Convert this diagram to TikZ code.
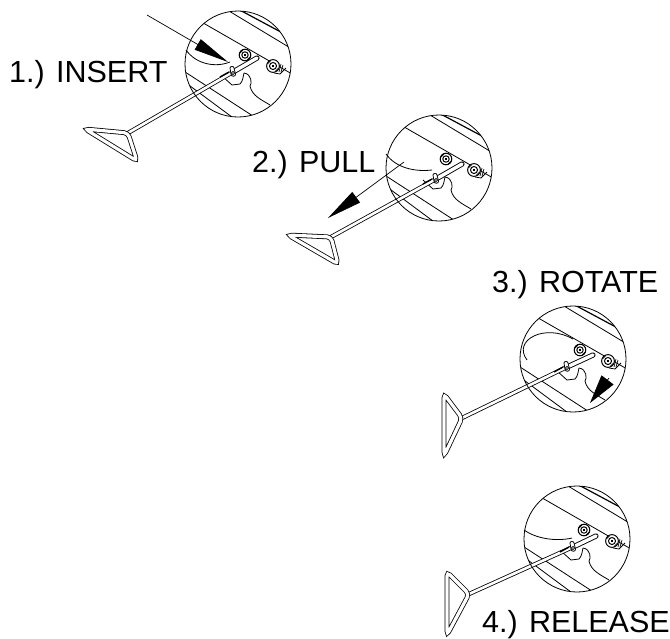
\documentclass[tikz,border=0pt]{standalone}
\usepackage{fontspec}
\setmainfont{Liberation Sans}
\usetikzlibrary{arrows.meta}
\tikzset{
  steplabel/.style={anchor=base west,inner sep=0pt,font=\fontsize{30.5}{32}\selectfont},
  lensring/.style={circle,draw,line width=0.8pt,minimum size=106pt,inner sep=0pt},
  rodline/.style={double,double distance=2.6pt,line width=0.8pt,line cap=round},
  rodhead/.style={double,double distance=3.4pt,line width=0.9pt,line cap=round},
  gripline/.style={double,double distance=3.2pt,line width=0.8pt,rounded corners=4pt},
  thinline/.style={line width=0.8pt},
  steparrow/.style 2 args={line width=0.7pt,-{Triangle[length=#1,width=#2]}},
  bolt/.pic={
    \draw[line width=1pt,fill=white] (0,0) circle (5.8);
    \draw[line width=1pt] (0,0) circle (3.2);
    \fill (-1.2,-1.2) rectangle (1.2,1.2);
    \draw[line width=0.7pt] (-5,-2) -- (-2,-5) (2,5) -- (5,2);
  },
  clevis/.pic={
    \draw[thinline,fill=white] (-3,-4) .. controls (-3,-6) and (1,-6) .. (1,-4) -- (2.5,2) .. controls (3,5) and (-2,5) .. (-2,2) -- cycle;
    \draw[thinline,fill=white] (0,1) circle (1.6);
    \draw[line width=1.4pt] (-4,0) -- (-13,5);
  },
  lensdetail/.pic={
    \clip (0,0) circle (53);
    \draw[line width=1.2pt] (-2,-56) -- (54,-26); % upper edge
    \draw[thinline] (-14,-56) -- (54,-15);
    \draw[thinline] (-40,-44) -- (54,10);
    \draw[thinline] (-56,6) -- (18,54); % lower edges
    \draw[thinline] (-56,16) -- (-2,56);
    \draw[thinline] (-16,12) -- (-6,21) -- (2,20) .. controls (5,17) and (5,13) .. (6,9);
    \draw[thinline] (6,9) .. controls (14,10) and (14,20) .. (12,22) .. controls (14,32) and (24,36) .. (32,41);
    \draw[thinline] (36,9) -- (42,10) -- (48,4);
    \draw[line width=0.7pt] (41,-1) -- (39,7) (43,0) -- (41,8) (45,1) -- (43,8);
    \path (7,-9) pic {bolt};
    \path (35,2) pic[scale=1.1] {bolt};
  }
}
\begin{document}
\begin{tikzpicture}[x=1pt,y=-1pt]
\useasboundingbox (0,0) rectangle (670,638);
% first step
\path (238,64) pic {lensdetail};
\draw[thinline] (186,50) .. controls (196,64) and (215,68) .. (230,62);
\coordinate (rodtop1) at (257,58);
\coordinate (clevis1) at (233,72);
\coordinate (joint1) at (128,133);
\draw[rodline] (clevis1) -- (joint1);
\draw[rodhead] (rodtop1) -- (clevis1);
\draw[gripline] (joint1) -- (85,129) -- (137,161) -- cycle;
\path (clevis1) pic {clevis};
\node[lensring] (lens1) at (238,64) {};
\coordinate (tail1) at (147,15);
\coordinate (tip1) at (228,62);
\draw[steparrow={35pt}{12pt}] (tail1) -- (tip1);
\node[steplabel] (insert) at (9,82) {1.) INSERT};
% second step
\path (439,168) pic {lensdetail};
\draw[thinline] (386,154) .. controls (396,168) and (415,172) .. (432,170);
\coordinate (rodtop2) at (462,164);
\coordinate (clevis2) at (436,179);
\coordinate (joint2) at (331,237);
\draw[rodline] (clevis2) -- (joint2);
\draw[rodhead] (rodtop2) -- (clevis2);
\draw[gripline] (joint2) -- (288,235) -- (338,264) -- cycle;
\path (clevis2) pic {clevis};
\node[lensring] (lens2) at (439,168) {};
\coordinate (tail2) at (404,162);
\coordinate (tip2) at (328,218);
\draw[steparrow={35pt}{13pt}] (tail2) -- (tip2);
\node[steplabel] (pull) at (252,172) {2.) PULL};
% third step
\path (573,359) pic {lensdetail};
\draw[thinline] (527,360) .. controls (512,340) and (545,323) .. (573,339);
\coordinate (rodtop3) at (593,355);
\coordinate (clevis3) at (567,367);
\coordinate (joint3) at (462,418);
\draw[rodline] (clevis3) -- (joint3);
\draw[rodhead] (rodtop3) -- (clevis3);
\draw[gripline] (joint3) -- (444,394) -- (444,456) -- cycle;
\path (clevis3) pic {clevis};
\node[lensring] (lens3) at (573,359) {};
\coordinate (tail3) at (609,378);
\coordinate (tip3) at (590,403);
\draw[steparrow={29pt}{15pt}] (tail3) -- (tip3);
\node[steplabel] (rotate) at (492,292) {3.) ROTATE};
% fourth step
\path (577,539) pic {lensdetail};
\draw[thinline] (524,530) .. controls (535,538) and (555,542) .. (572,538);
\coordinate (rodtop4) at (596,536);
\coordinate (clevis4) at (573,547);
\coordinate (joint4) at (469,594);
\draw[rodline] (clevis4) -- (joint4);
\draw[rodhead] (rodtop4) -- (clevis4);
\draw[gripline] (joint4) -- (447,572) -- (447,635) -- cycle;
\path (clevis4) pic {clevis};
\node[lensring] (lens4) at (577,539) {};
\node[steplabel] (release) at (482,632) {4.) RELEASE};
\end{tikzpicture}
\end{document}
